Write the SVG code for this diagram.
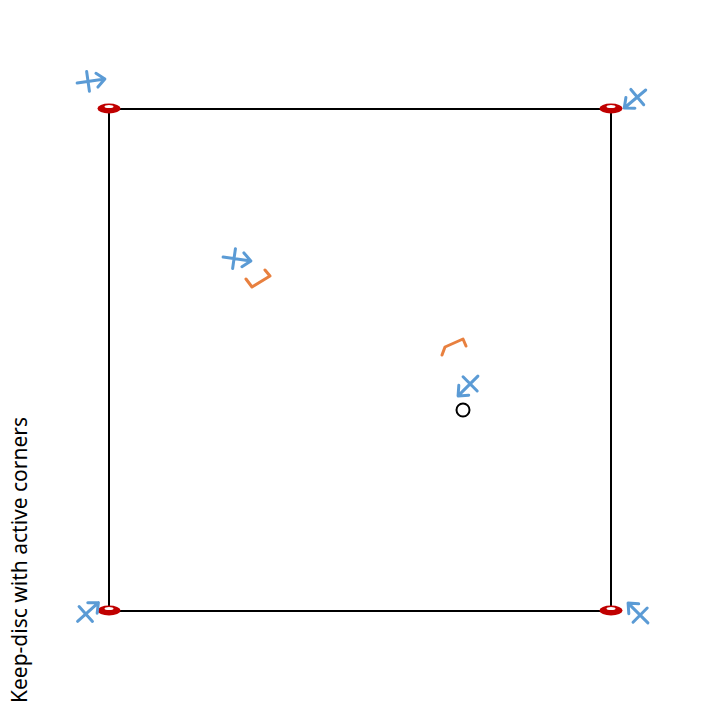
<svg xmlns="http://www.w3.org/2000/svg" width="720" height="720" viewBox="0 0 720 720">
<style>
.frame{fill:none;stroke:#000;stroke-width:2}
.ax{fill:none;stroke:#5b9bd5;stroke-width:3;stroke-linecap:round;stroke-linejoin:round}
.br{fill:none;stroke:#e8803f;stroke-width:3;stroke-linecap:round;stroke-linejoin:round}
.disc{fill:#c00000}
.hole{fill:#fff}
.lbl{font-family:"Noto Sans","DejaVu Sans",sans-serif;font-size:21px;fill:#000}
</style>
<defs>
<g id="crossArrow" class="ax">
<path d="M-14,0 L14,0 M6,-7 L14,0 L6,7 M-3,-10 L-3,10"/>
</g>
<g id="keepDisc">
<ellipse class="disc" cx="0" cy="0.5" rx="11.5" ry="5"/>
<ellipse class="hole" cx="0" cy="-1.5" rx="4.5" ry="1.6"/>
</g>
</defs>
<rect width="720" height="720" fill="#fff"/>
<g id="connectors">
<rect id="square" class="frame" x="109" y="109" width="502" height="502"/>
</g>
<g id="disc-tl"><use href="#keepDisc" x="109" y="108"/></g>
<g id="disc-tr"><use href="#keepDisc" x="611" y="108"/></g>
<g id="disc-bl"><use href="#keepDisc" x="109" y="610"/></g>
<g id="disc-br"><use href="#keepDisc" x="611" y="610"/></g>
<g id="arrow-tl"><use href="#crossArrow" transform="translate(91,81) rotate(-8)"/></g>
<g id="arrow-tr"><use href="#crossArrow" transform="translate(635,99) rotate(140)"/></g>
<g id="arrow-bl"><use href="#crossArrow" transform="translate(88,612) rotate(-42)"/></g>
<g id="arrow-br"><use href="#crossArrow" transform="translate(638,613) rotate(-135)"/></g>
<g id="arrow-mid1"><use href="#crossArrow" transform="translate(237,259) rotate(8)"/></g>
<g id="arrow-mid2"><use href="#crossArrow" transform="translate(468,386) rotate(135)"/></g>
<g id="bracket1"><path class="br" d="M246,279 L252,287 L270,276 L265,270"/></g>
<g id="bracket2"><path class="br" d="M442,355 L445,347 L463,339 L466,346"/></g>
<g id="origin"><circle cx="463" cy="410" r="6.5" fill="none" stroke="#000" stroke-width="2"/></g>
<g id="title"><text class="lbl" transform="translate(27,560) rotate(-90)" text-anchor="middle">Keep-disc with active corners</text></g>
</svg>
